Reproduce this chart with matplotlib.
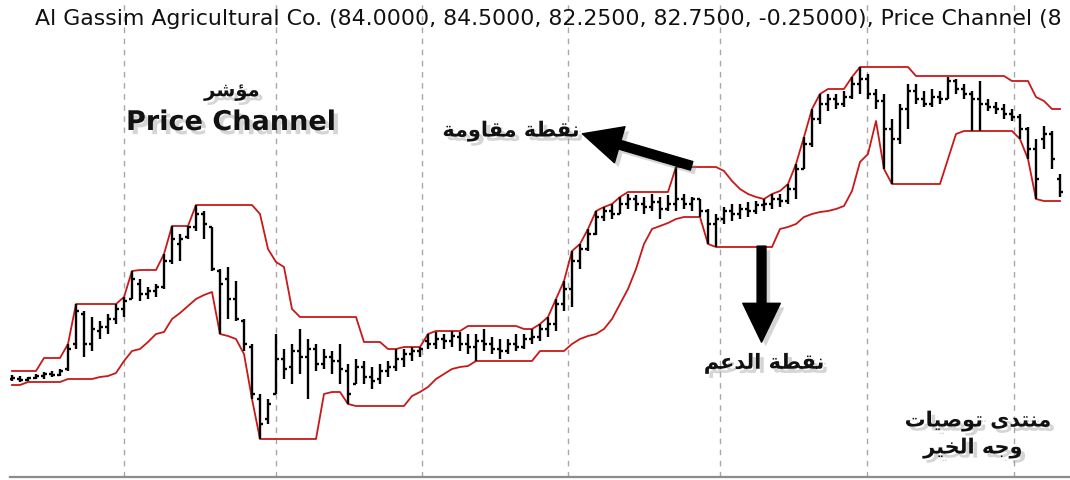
import numpy as np
import matplotlib
matplotlib.use("Agg")
import matplotlib.pyplot as plt
import matplotlib.patheffects as pe

# daily OHLC bars (SAR)
open_ = [64.0, 64.0, 63.9, 64.1, 64.3, 64.5, 64.4, 65.0, 67.5, 70.5,
         67.5, 68.8, 69.2, 70.0, 71.0, 72.0, 73.5, 72.5, 72.8, 73.2,
         75.8, 77.5, 78.2, 79.2, 80.5, 79.2, 74.8, 74.0, 72.0, 69.8,
         67.2, 62.0, 60.0, 62.5, 66.0, 65.2, 66.8, 66.2, 67.0, 65.5,
         66.2, 65.8, 64.8, 63.5, 65.2, 64.2, 64.0, 64.8, 65.2, 66.0,
         66.5, 66.8, 67.8, 67.5, 68.0, 67.8, 68.2, 67.5, 67.2, 67.8,
         67.5, 67.0, 66.8, 67.5, 67.2, 68.0, 68.2, 69.0, 69.5, 71.5,
         73.0, 75.8, 77.0, 78.5, 80.2, 80.8, 80.5, 81.5, 82.0, 81.5,
         81.2, 81.7, 81.0, 81.5, 82.0, 81.5, 82.0, 80.8, 79.5, 80.0,
         80.8, 80.5, 81.0, 80.8, 81.4, 81.5, 82.0, 81.8, 83.0, 85.0,
         87.5, 90.0, 91.5, 92.0, 91.5, 92.2, 93.5, 94.0, 92.5, 91.8,
         89.0, 88.0, 91.0, 92.8, 92.0, 91.5, 92.2, 92.0, 93.8, 93.0,
         92.5, 92.0, 91.5, 91.2, 91.0, 90.5, 90.2, 89.0, 87.0, 88.0,
         88.5, 84.0]
high = [64.4, 64.3, 64.2, 64.5, 64.7, 64.8, 65.0, 67.5, 71.5, 70.8,
        70.2, 69.8, 70.5, 71.5, 72.2, 74.8, 74.0, 73.2, 73.5, 76.5,
        79.3, 78.5, 79.3, 81.4, 80.8, 79.2, 75.0, 75.2, 73.8, 70.0,
        67.5, 62.5, 62.0, 68.5, 67.0, 67.5, 69.0, 68.0, 67.5, 67.0,
        66.8, 67.5, 65.5, 66.0, 65.8, 65.2, 65.5, 65.8, 67.0, 67.0,
        67.2, 67.2, 68.5, 68.7, 68.5, 68.8, 68.7, 68.5, 68.5, 69.0,
        68.2, 68.0, 68.0, 68.5, 68.5, 69.0, 69.5, 70.2, 72.0, 73.8,
        76.8, 77.5, 79.0, 80.8, 81.2, 81.5, 82.2, 82.5, 82.4, 82.2,
        82.5, 82.2, 82.4, 85.2, 82.5, 82.2, 82.0, 81.0, 80.5, 81.2,
        81.5, 81.5, 81.7, 81.8, 82.0, 82.5, 82.5, 83.5, 85.5, 88.2,
        91.0, 92.5, 92.5, 92.5, 92.8, 94.2, 95.2, 94.5, 93.0, 92.5,
        90.0, 91.5, 93.5, 93.5, 92.8, 93.0, 92.8, 94.2, 94.0, 93.5,
        92.8, 93.8, 92.0, 91.7, 91.5, 91.0, 90.5, 89.2, 88.0, 89.3,
        88.8, 84.5]
low = [63.8, 63.7, 63.8, 64.0, 64.0, 64.2, 64.3, 64.8, 67.0, 66.2,
       66.8, 68.0, 68.5, 69.5, 70.2, 72.0, 71.8, 72.0, 72.2, 73.0,
       75.5, 75.8, 78.0, 78.8, 78.0, 74.8, 68.5, 70.0, 69.8, 66.8,
       62.0, 58.0, 59.5, 62.5, 64.0, 63.5, 64.5, 62.0, 64.8, 65.0,
       64.5, 63.5, 61.5, 63.5, 63.5, 63.0, 63.5, 64.2, 64.8, 65.2,
       65.8, 66.2, 67.0, 67.0, 67.0, 67.2, 66.8, 66.5, 65.8, 66.8,
       66.5, 66.0, 66.5, 66.8, 67.0, 67.5, 67.8, 68.2, 68.8, 70.8,
       71.2, 75.0, 76.8, 78.4, 79.8, 80.0, 80.5, 81.0, 80.8, 80.5,
       80.8, 80.0, 80.8, 80.8, 81.0, 80.8, 80.2, 77.5, 77.2, 79.5,
       79.8, 80.0, 80.2, 80.5, 80.8, 81.0, 81.2, 81.5, 82.0, 85.0,
       87.2, 89.5, 90.8, 91.0, 91.2, 92.0, 92.5, 92.0, 91.0, 85.0,
       83.5, 87.5, 89.0, 91.5, 91.2, 91.2, 91.5, 92.0, 92.5, 92.0,
       88.8, 88.8, 90.8, 90.5, 90.0, 89.8, 88.0, 86.0, 82.0, 87.0,
       85.0, 82.25]
close = [64.1, 63.9, 64.1, 64.3, 64.5, 64.4, 64.8, 67.0, 70.8, 67.5,
         69.0, 69.2, 70.0, 71.0, 71.8, 74.0, 72.5, 72.8, 73.2, 75.8,
         78.0, 78.0, 79.2, 80.5, 79.5, 75.0, 73.5, 72.0, 70.0, 67.5,
         62.5, 59.5, 61.5, 66.0, 65.0, 66.8, 66.2, 67.0, 65.5, 66.2,
         65.8, 65.0, 62.5, 65.2, 64.2, 63.8, 64.8, 65.2, 66.0, 66.5,
         66.8, 67.0, 67.5, 68.0, 67.8, 68.3, 67.5, 67.2, 67.8, 67.5,
         67.0, 66.8, 67.5, 67.2, 68.0, 68.2, 69.0, 69.5, 71.5, 73.0,
         75.8, 77.0, 78.5, 80.2, 80.8, 80.5, 81.5, 82.0, 81.5, 81.2,
         81.7, 81.0, 81.5, 82.0, 81.5, 82.0, 80.8, 79.5, 80.0, 80.8,
         80.5, 81.0, 80.8, 81.4, 81.5, 82.0, 81.8, 83.0, 85.0, 87.5,
         90.0, 91.5, 92.0, 91.5, 92.2, 93.5, 94.0, 92.5, 91.8, 89.0,
         88.0, 91.0, 92.8, 92.0, 91.5, 92.2, 92.0, 93.8, 93.0, 92.5,
         92.0, 91.5, 91.2, 91.0, 90.5, 90.2, 89.0, 87.0, 84.0, 88.5,
         86.0, 82.75]

# price channel bands
upper = [64.8, 64.8, 64.8, 64.8, 66.1, 66.1, 66.1, 67.5, 71.5, 71.5,
         71.5, 71.5, 71.5, 71.5, 72.2, 74.8, 74.9, 74.9, 74.9, 76.5,
         79.3, 79.3, 79.3, 81.4, 81.4, 81.4, 81.4, 81.4, 81.4, 81.4,
         81.4, 80.5, 77.0, 75.7, 75.2, 71.0, 70.2, 70.2, 70.2, 70.2,
         70.2, 70.2, 70.2, 70.2, 67.7, 67.7, 67.7, 67.0, 67.0, 67.2,
         67.2, 67.2, 68.5, 68.8, 68.8, 68.8, 68.8, 69.3, 69.3, 69.3,
         69.3, 69.3, 69.3, 69.3, 69.0, 69.0, 69.5, 70.2, 72.0, 73.8,
         76.8, 77.5, 79.0, 80.8, 81.2, 81.5, 82.2, 82.7, 82.7, 82.7,
         82.7, 82.7, 82.7, 85.2, 85.2, 85.2, 85.2, 85.2, 85.2, 84.8,
         83.8, 83.0, 82.5, 82.2, 82.0, 82.5, 82.8, 83.5, 85.5, 88.2,
         91.0, 92.5, 93.0, 93.0, 93.0, 94.2, 95.2, 95.2, 95.2, 95.2,
         95.2, 95.2, 95.2, 94.3, 94.3, 94.3, 94.3, 94.3, 94.3, 94.3,
         94.3, 94.3, 94.3, 94.3, 94.3, 93.8, 93.8, 93.8, 92.2, 91.8,
         91.0, 91.0]
lower = [63.4, 63.4, 63.7, 63.7, 63.7, 63.7, 63.7, 64.0, 64.0, 64.0,
         64.0, 64.2, 64.3, 64.6, 65.8, 66.8, 67.0, 67.7, 68.5, 68.7,
         70.0, 70.6, 71.3, 72.0, 72.4, 72.7, 68.5, 68.3, 68.0, 66.5,
         62.0, 58.0, 58.0, 58.0, 58.0, 58.0, 58.0, 58.0, 58.0, 62.5,
         62.7, 62.7, 61.5, 61.3, 61.3, 61.3, 61.3, 61.3, 61.3, 61.3,
         62.3, 62.7, 63.2, 64.0, 64.5, 65.0, 65.2, 65.3, 65.8, 65.8,
         65.8, 65.8, 65.8, 65.8, 65.8, 65.8, 66.8, 66.8, 66.8, 66.8,
         67.5, 68.0, 68.3, 68.5, 69.0, 70.0, 71.5, 73.0, 75.0, 77.5,
         79.0, 79.3, 79.6, 80.0, 80.2, 80.2, 80.2, 77.5, 77.2, 77.2,
         77.2, 77.2, 77.2, 77.2, 77.2, 77.2, 79.0, 79.2, 79.5, 80.2,
         80.5, 80.7, 80.8, 81.0, 81.3, 82.8, 85.7, 86.5, 89.8, 85.0,
         83.5, 83.5, 83.5, 83.5, 83.5, 83.5, 83.5, 86.0, 88.5, 88.8,
         88.8, 88.8, 88.8, 88.8, 88.8, 88.8, 88.0, 86.0, 82.0, 81.8,
         81.8, 81.8]

# month separators (bar index)
grid_pos = [14.0, 33.0, 51.25, 69.5, 88.5, 106.9, 125.25]

title = ("Al Gassim Agricultural Co. (84.0000, 84.5000, 82.2500, 82.7500, "
         "-0.25000), Price Channel (8")

# arabic labels, written with presentation forms (logical order),
# reversed below because matplotlib does no bidi / shaping
lbl_indicator = "\uFEE3\uFE86\uFEB7\uFEAE"
lbl_resist = "\uFEE7\uFED8\uFEC4\uFE94 \uFEE3\uFED8\uFE8E\uFEED\uFEE3\uFE94"
lbl_support = "\uFEE7\uFED8\uFEC4\uFE94 \uFE8D\uFEDF\uFEAA\uFECB\uFEE2"
lbl_forum1 = "\uFEE3\uFEE8\uFE98\uFEAA\uFEEF \uFE97\uFEEE\uFEBB\uFEF4\uFE8E\uFE95"
lbl_forum2 = "\uFEED\uFE9F\uFEEA \uFE8D\uFEDF\uFEA8\uFEF4\uFEAE"


def vis(s):
    return s[::-1]


x = np.arange(len(close))

fig = plt.figure(figsize=(10.7, 4.81), dpi=100)
ax = fig.add_axes([10 / 1070, 3 / 481, 1060 / 1070, 478 / 481])
ax.set_xlim(-0.25, 132.25)
ax.set_ylim(54.2, 102)

for g in grid_pos:
    ax.axvline(g, color="#a8a8a8", lw=1, ls=(0, (4, 4)), zorder=0)

ax.plot(x, upper, color="#c81818", lw=1.3, zorder=2)
ax.plot(x, lower, color="#c81818", lw=1.3, zorder=2)

ax.vlines(x, low, high, color="black", lw=1.7, zorder=3)
ax.hlines(open_, x - 0.4, x, color="black", lw=1.7, zorder=3)
ax.hlines(close, x, x + 0.4, color="black", lw=1.7, zorder=3)

for s in ["top", "left", "right"]:
    ax.spines[s].set_visible(False)
ax.spines["bottom"].set_color("#8c8c8c")
ax.spines["bottom"].set_linewidth(1.6)
ax.set_xticks([])
ax.set_yticks([])

fig.text(35 / 1070, 1 - 19 / 481, title, ha="left", va="center",
         fontsize=15.8, color="#111111", family="DejaVu Sans")

shadow = [pe.SimplePatchShadow(offset=(3, -3), shadow_rgbFace="#888888", alpha=0.35),
          pe.Normal()]

def label(fx, fy, s, size, **kw):
    ax.text(fx, fy, s, transform=ax.transAxes, ha="center", va="center",
            fontsize=size, fontweight="bold", color="#111111",
            family="DejaVu Sans", path_effects=shadow, **kw)

label(0.2094, 0.8075, vis(lbl_indicator), 14)
label(0.2085, 0.7406, "Price Channel", 19.5)
label(0.4726, 0.7238, vis(lbl_resist), 15)
label(0.7113, 0.2385, vis(lbl_support), 15)
label(0.9132, 0.1172, vis(lbl_forum1), 15)
label(0.9085, 0.0607, vis(lbl_forum2), 15)

arrow_style = "simple,head_length=1.4,head_width=1.35,tail_width=0.32"
for tail, tip in [((0.643, 0.651), (0.540, 0.718)),
                  ((0.709, 0.483), (0.709, 0.282))]:
    ax.annotate("", xy=tip, xytext=tail, xycoords="axes fraction",
                textcoords="axes fraction",
                arrowprops=dict(arrowstyle=arrow_style, color="black",
                                mutation_scale=20, shrinkA=0, shrinkB=0,
                                path_effects=shadow), zorder=5)

fig.savefig("out.png", dpi=100)
